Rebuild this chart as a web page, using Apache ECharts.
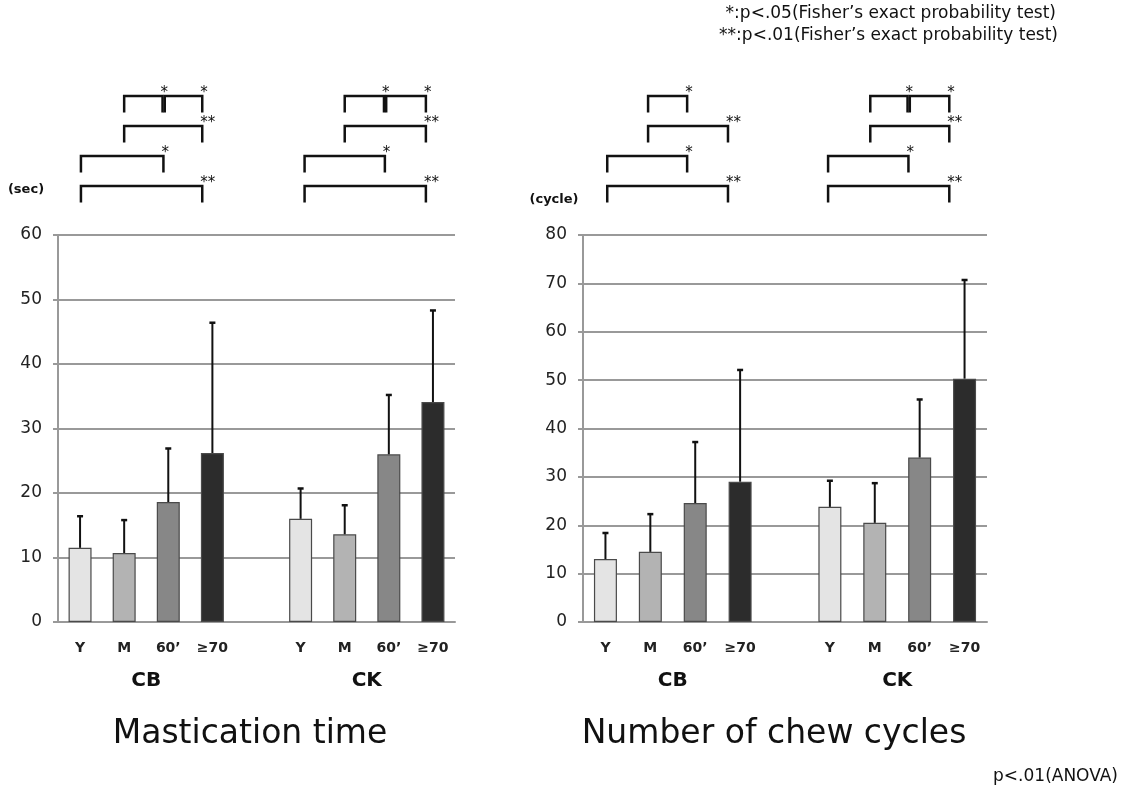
<!DOCTYPE html>
<html>
<head>
    <meta charset="utf-8">
    <script src="https://cdn.jsdelivr.net/npm/echarts@6/dist/echarts.min.js"></script>
</head>
<body style="margin: 0">
    <div id="main" style="width: 1123px; height: 787px;"></div>
    <script type="text/javascript">
    // data
    var categories = ['Y', 'M', '60\u2019', '\u226570', '', 'Y', 'M', '60\u2019', '\u226570'];
    var groupNames = ['CB', 'CK'];
    var groupCenters = [1.5, 6.5];

    var timeMean = [11.5, 10.7, 18.6, 26.2, null, 16.0, 13.6, 26.0, 34.1];
    var timeSD = [4.9, 5.1, 8.3, 20.2, null, 4.7, 4.5, 9.2, 14.2];
    var cycleMean = [13.0, 14.5, 24.6, 29.0, null, 23.8, 20.5, 34.0, 50.3];
    var cycleSD = [5.4, 7.8, 12.6, 23.1, null, 5.4, 8.2, 12.0, 20.4];

    // significance brackets: [from, to, row, mark]
    var timeBrackets = [
        [0.02, 2.77, 0, '**'], [0.02, 1.89, 1, '*'], [1.0, 2.77, 2, '**'],
        [1.0, 1.87, 3, '*'], [1.92, 2.77, 3, '*'],
        [5.09, 7.84, 0, '**'], [5.09, 6.91, 1, '*'], [6.0, 7.84, 2, '**'],
        [6.0, 6.89, 3, '*'], [6.94, 7.84, 3, '*']
    ];
    var cycleBrackets = [
        [0.04, 2.73, 0, '**'], [0.04, 1.82, 1, '*'], [0.95, 2.73, 2, '**'],
        [0.95, 1.82, 3, '*'],
        [4.96, 7.66, 0, '**'], [4.96, 6.75, 1, '*'], [5.9, 7.66, 2, '**'],
        [5.9, 6.73, 3, '*'], [6.78, 7.66, 3, '*']
    ];

    var barColors = ['#e4e4e4', '#b3b3b3', '#878787', '#2c2c2c'];
    var FONT = "'DejaVu Sans', sans-serif";

    var charts = [
        { mean: timeMean, sd: timeSD, max: 60, brackets: timeBrackets, left: 58, width: 397 },
        { mean: cycleMean, sd: cycleSD, max: 80, brackets: cycleBrackets, left: 583, width: 404 }
    ];

    var myChart = echarts.init(document.getElementById('main'));
    var option = {
        animation: false,
        backgroundColor: '#fff',
        grid: [], xAxis: [], yAxis: [], series: [],
        graphic: [
            { type: 'text', x: 250, y: 734, style: { text: 'Mastication time', font: '33px ' + FONT, fill: '#111', textAlign: 'center', textVerticalAlign: 'middle' } },
            { type: 'text', x: 774, y: 734, style: { text: 'Number of chew cycles', font: '33px ' + FONT, fill: '#111', textAlign: 'center', textVerticalAlign: 'middle' } },
            { type: 'text', x: 26, y: 190, style: { text: '(sec)', font: 'bold 13px ' + FONT, fill: '#111', textAlign: 'center', textVerticalAlign: 'middle' } },
            { type: 'text', x: 554, y: 200, style: { text: '(cycle)', font: 'bold 13px ' + FONT, fill: '#111', textAlign: 'center', textVerticalAlign: 'middle' } },
            { type: 'text', x: 1056, y: 14, style: { text: '*:p<.05(Fisher\u2019s exact probability test)', font: '17px ' + FONT, fill: '#111', textAlign: 'right', textVerticalAlign: 'middle' } },
            { type: 'text', x: 1058, y: 36, style: { text: '**:p<.01(Fisher\u2019s exact probability test)', font: '17px ' + FONT, fill: '#111', textAlign: 'right', textVerticalAlign: 'middle' } },
            { type: 'text', x: 1118, y: 777, style: { text: 'p<.01(ANOVA)', font: '17px ' + FONT, fill: '#111', textAlign: 'right', textVerticalAlign: 'middle' } }
        ]
    };

    charts.forEach(function (def, k) {
        var gx = 2 * k;
        var xa = 3 * k;
        option.grid.push({ left: def.left, width: def.width, top: 235, height: 387 });
        option.grid.push({ left: def.left, width: def.width, top: 81, height: 135 });

        option.xAxis.push({
            type: 'category', gridIndex: gx, data: categories,
            axisLine: { lineStyle: { color: '#999', width: 2 } },
            axisTick: { show: false },
            axisLabel: { margin: 19, fontSize: 14, fontWeight: 'bold', color: '#222', fontFamily: FONT, interval: 0 }
        });
        option.xAxis.push({ type: 'value', gridIndex: gx, min: -0.5, max: 8.5, show: false });
        option.xAxis.push({ type: 'value', gridIndex: gx + 1, min: -0.5, max: 8.5, show: false });

        option.yAxis.push({
            type: 'value', gridIndex: gx, min: 0, max: def.max, interval: 10,
            axisLine: { show: true, onZero: false, lineStyle: { color: '#999', width: 2 } },
            axisTick: { show: true, length: 5, lineStyle: { color: '#999', width: 2 } },
            axisLabel: { margin: 16, fontSize: 17, color: '#222', fontFamily: FONT },
            splitLine: { lineStyle: { color: '#999', width: 2 } }
        });
        option.yAxis.push({ type: 'value', gridIndex: gx + 1, min: -1, max: 3.5, show: false });

        option.series.push({
            type: 'bar', xAxisIndex: xa, yAxisIndex: gx, barWidth: 23,
            data: def.mean.map(function (v, i) {
                if (v == null) return '-';
                return { value: v, itemStyle: { color: barColors[i % 5], borderColor: '#4a4a4a', borderWidth: 1.2 } };
            })
        });

        // error bars (mean + SD)
        var errData = [];
        def.mean.forEach(function (v, i) {
            if (v != null) errData.push([i, v, def.sd[i]]);
        });
        option.series.push({
            type: 'custom', xAxisIndex: xa, yAxisIndex: gx, z: 5,
            data: errData,
            renderItem: function (params, api) {
                var m = api.value(1);
                var p0 = api.coord([api.value(0), m]);
                var p1 = api.coord([api.value(0), m + api.value(2)]);
                return {
                    type: 'group',
                    children: [
                        { type: 'line', shape: { x1: p0[0], y1: p0[1], x2: p1[0], y2: p1[1] }, style: { stroke: '#111', lineWidth: 2 } },
                        { type: 'line', shape: { x1: p1[0] - 3, y1: p1[1], x2: p1[0] + 3, y2: p1[1] }, style: { stroke: '#111', lineWidth: 2.5 } }
                    ]
                };
            }
        });

        // group names under the category labels
        option.series.push({
            type: 'custom', xAxisIndex: xa + 1, yAxisIndex: gx,
            data: groupCenters.map(function (c) { return [c, 0]; }),
            renderItem: function (params, api) {
                var p = api.coord([api.value(0), 0]);
                return {
                    type: 'text', x: p[0], y: p[1] + 59,
                    style: { text: groupNames[params.dataIndex], font: 'bold 20px ' + FONT, fill: '#111', textAlign: 'center', textVerticalAlign: 'middle' }
                };
            }
        });

        // significance brackets
        var br = def.brackets;
        option.series.push({
            type: 'custom', xAxisIndex: xa + 2, yAxisIndex: gx + 1,
            data: br.map(function (b) { return [b[0], b[1], b[2]]; }),
            renderItem: function (params, api) {
                var lv = api.value(2);
                var a = api.coord([api.value(0), lv - 0.55]);
                var b = api.coord([api.value(0), lv]);
                var c = api.coord([api.value(1), lv]);
                var d = api.coord([api.value(1), lv - 0.55]);
                return {
                    type: 'group',
                    children: [
                        { type: 'polyline', shape: { points: [a, b, c, d] }, style: { stroke: '#111', lineWidth: 2.5, fill: null } },
                        { type: 'text', x: c[0] - 2, y: c[1] - 3, style: { text: br[params.dataIndex][3], font: '15px ' + FONT, fill: '#111', textAlign: 'left', textVerticalAlign: 'middle' } }
                    ]
                };
            }
        });
    });

    myChart.setOption(option);
    </script>
</body>
</html>
